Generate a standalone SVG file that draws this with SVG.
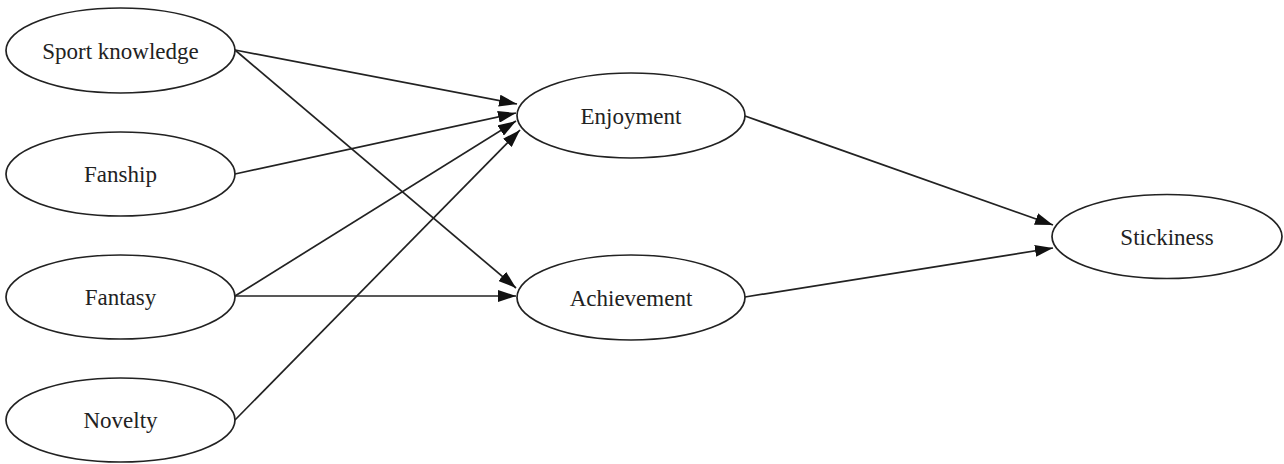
<svg xmlns="http://www.w3.org/2000/svg" width="1284" height="464" viewBox="0 0 1284 464">
<style>
.node ellipse{fill:#fff;stroke:#222;stroke-width:1.7}
.node text{font-family:"Liberation Serif","Times New Roman",serif;font-size:23px;fill:#222;text-anchor:middle}
.edges line{stroke:#222;stroke-width:1.7;marker-end:url(#arr)}
</style>
<defs>
<marker id="arr" markerUnits="userSpaceOnUse" markerWidth="18" markerHeight="12" refX="18" refY="6" orient="auto">
<path d="M0,0 L18,6 L0,12 z" fill="#111"/>
</marker>
</defs>
<rect width="1284" height="464" fill="#fff"/>
<g class="edges">
<line x1="235" y1="50" x2="517" y2="104"/>
<line x1="235" y1="50" x2="516" y2="288"/>
<line x1="235" y1="174" x2="516" y2="113"/>
<line x1="235" y1="296" x2="516" y2="121"/>
<line x1="235" y1="296" x2="516" y2="296"/>
<line x1="235" y1="420" x2="520" y2="130"/>
<line x1="745" y1="116" x2="1053" y2="225"/>
<line x1="745" y1="297" x2="1053" y2="248"/>
</g>
<g id="sport-knowledge" class="node"><ellipse cx="120.5" cy="50.5" rx="114.5" ry="42.5"/><text x="120.5" y="58.5">Sport knowledge</text></g>
<g id="fanship" class="node"><ellipse cx="120.5" cy="174" rx="114.5" ry="42"/><text x="120.5" y="182">Fanship</text></g>
<g id="fantasy" class="node"><ellipse cx="120.5" cy="297" rx="114.5" ry="42"/><text x="120.5" y="305">Fantasy</text></g>
<g id="novelty" class="node"><ellipse cx="120.5" cy="420" rx="114.5" ry="42"/><text x="120.5" y="428">Novelty</text></g>
<g id="enjoyment" class="node"><ellipse cx="631" cy="115.5" rx="114" ry="42.5"/><text x="631" y="123.5">Enjoyment</text></g>
<g id="achievement" class="node"><ellipse cx="631" cy="297.5" rx="114" ry="42.5"/><text x="631" y="305.5">Achievement</text></g>
<g id="stickiness" class="node"><ellipse cx="1167" cy="236.5" rx="115" ry="42"/><text x="1167" y="244.5">Stickiness</text></g>
</svg>
